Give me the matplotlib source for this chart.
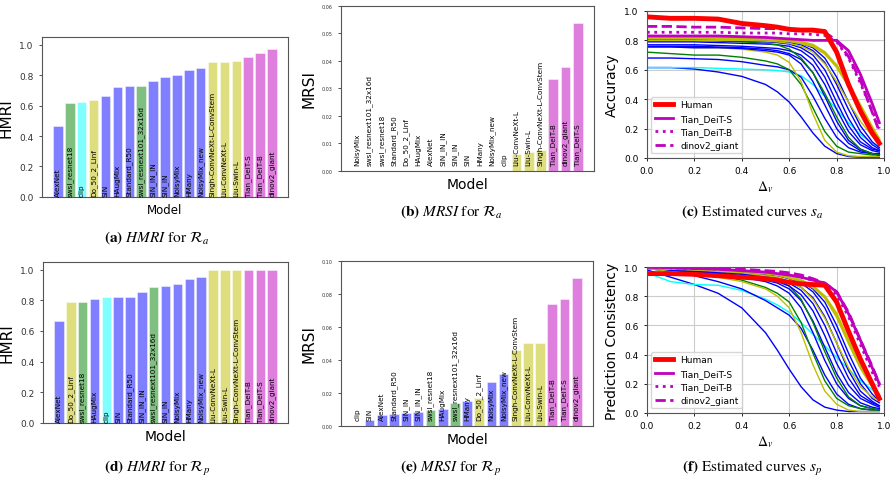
import matplotlib
matplotlib.use("Agg")
import matplotlib.pyplot as plt

plt.rcParams['mathtext.fontset'] = 'stix'

# ---- bar panel data (display order as in the figure) ----
names_a = ['AlexNet', 'swsl_resnet18', 'clip', 'Do_50_2_Linf', 'SIN', 'HAugMix', 'Standard_R50',
           'swsl_resnext101_32x16d', 'SIN_IN_IN', 'SIN_IN', 'NoisyMix', 'HMany', 'NoisyMix_new',
           'Singh-ConvNeXt-L-ConvStem', 'Liu-ConvNeXt-L', 'Liu-Swin-L', 'Tian_DeiT-S', 'Tian_DeiT-B',
           'dinov2_giant']
hmri_a = [0.467, 0.616, 0.622, 0.638, 0.662, 0.72, 0.727, 0.727, 0.76, 0.79, 0.803, 0.834, 0.843,
          0.884, 0.884, 0.893, 0.919, 0.943, 0.972]

names_b = ['NoisyMix', 'swsl_resnext101_32x16d', 'swsl_resnet18', 'Standard_R50', 'Do_50_2_Linf',
           'HAugMix', 'AlexNet', 'SIN_IN_IN', 'SIN_IN', 'SIN', 'HMany', 'NoisyMix_new', 'clip',
           'Liu-ConvNeXt-L', 'Liu-Swin-L', 'Singh-ConvNeXt-L-ConvStem', 'Tian_DeiT-B', 'dinov2_giant',
           'Tian_DeiT-S']
mrsi_a = [0, 0, 0, 0, 0, 0, 0, 0, 0, 0, 0, 0, 0, 0.0063, 0.0069, 0.0075, 0.0335, 0.0379, 0.0537]

names_d = ['AlexNet', 'Do_50_2_Linf', 'swsl_resnet18', 'HAugMix', 'clip', 'SIN', 'Standard_R50',
           'SIN_IN_IN', 'swsl_resnext101_32x16d', 'SIN_IN', 'NoisyMix', 'HMany', 'NoisyMix_new',
           'Liu-ConvNeXt-L', 'Liu-Swin-L', 'Singh-ConvNeXt-L-ConvStem', 'Tian_DeiT-B', 'Tian_DeiT-S',
           'dinov2_giant']
hmri_p = [0.667, 0.787, 0.787, 0.811, 0.82, 0.824, 0.824, 0.852, 0.885, 0.893, 0.907, 0.939, 0.952,
          1.0, 1.0, 1.0, 1.0, 1.0, 1.0]

names_e = ['clip', 'SIN', 'AlexNet', 'Standard_R50', 'SIN_IN', 'SIN_IN_IN', 'swsl_resnet18', 'HAugMix',
           'swsl_resnext101_32x16d', 'HMany', 'Do_50_2_Linf', 'NoisyMix', 'NoisyMix_new',
           'Singh-ConvNeXt-L-ConvStem', 'Liu-ConvNeXt-L', 'Liu-Swin-L', 'Tian_DeiT-B', 'Tian_DeiT-S',
           'dinov2_giant']
mrsi_p = [0, 0.0038, 0.0065, 0.0071, 0.0077, 0.0085, 0.0097, 0.0103, 0.0137, 0.015, 0.0168, 0.0265,
          0.0315, 0.0463, 0.0503, 0.0505, 0.0741, 0.077, 0.0897]

model_color = {'AlexNet': 'blue', 'SIN': 'blue', 'HAugMix': 'blue', 'Standard_R50': 'blue',
               'SIN_IN_IN': 'blue', 'SIN_IN': 'blue', 'NoisyMix': 'blue', 'HMany': 'blue',
               'NoisyMix_new': 'blue', 'swsl_resnet18': 'green', 'swsl_resnext101_32x16d': 'green',
               'clip': 'cyan', 'Do_50_2_Linf': 'y', 'Singh-ConvNeXt-L-ConvStem': 'y',
               'Liu-ConvNeXt-L': 'y', 'Liu-Swin-L': 'y', 'Tian_DeiT-S': 'm', 'Tian_DeiT-B': 'm',
               'dinov2_giant': 'm'}

# ---- estimated curves, sampled at delta_v ----
dv = [0, 0.1, 0.2, 0.3, 0.4, 0.5, 0.55, 0.6, 0.65, 0.7, 0.75, 0.8, 0.85, 0.9, 0.95, 0.98]

acc_human = [0.96, 0.95, 0.95, 0.945, 0.915, 0.90, 0.89, 0.875, 0.87, 0.87, 0.86, 0.72, 0.50, 0.32, 0.17, 0.10]
acc_models = {
    'AlexNet': [0.615, 0.615, 0.605, 0.585, 0.555, 0.50, 0.45, 0.38, 0.28, 0.17, 0.08, 0.03, 0.01, 0.005, 0.005, 0.005],
    'clip': [0.615, 0.615, 0.615, 0.61, 0.605, 0.60, 0.595, 0.585, 0.56, 0.50, 0.42, 0.33, 0.24, 0.16, 0.10, 0.08],
    'SIN': [0.68, 0.68, 0.675, 0.67, 0.655, 0.63, 0.62, 0.60, 0.55, 0.42, 0.27, 0.14, 0.07, 0.04, 0.03, 0.03],
    'swsl_resnet18': [0.72, 0.71, 0.70, 0.70, 0.685, 0.66, 0.64, 0.60, 0.50, 0.34, 0.18, 0.08, 0.04, 0.03, 0.02, 0.02],
    'Do_50_2_Linf': [0.755, 0.755, 0.75, 0.75, 0.74, 0.72, 0.70, 0.65, 0.52, 0.30, 0.12, 0.04, 0.015, 0.01, 0.01, 0.01],
    'HAugMix': [0.755, 0.755, 0.75, 0.75, 0.745, 0.73, 0.72, 0.70, 0.64, 0.52, 0.36, 0.20, 0.10, 0.05, 0.03, 0.02],
    'Standard_R50': [0.76, 0.76, 0.76, 0.755, 0.75, 0.74, 0.73, 0.71, 0.67, 0.58, 0.42, 0.25, 0.12, 0.06, 0.03, 0.02],
    'SIN_IN_IN': [0.77, 0.77, 0.77, 0.765, 0.76, 0.75, 0.745, 0.73, 0.70, 0.63, 0.50, 0.33, 0.18, 0.09, 0.05, 0.04],
    'SIN_IN': [0.79, 0.79, 0.79, 0.785, 0.78, 0.775, 0.77, 0.76, 0.73, 0.67, 0.55, 0.38, 0.22, 0.11, 0.06, 0.05],
    'swsl_resnext101_32x16d': [0.80, 0.80, 0.80, 0.795, 0.79, 0.78, 0.77, 0.74, 0.68, 0.58, 0.44, 0.28, 0.14, 0.06, 0.03, 0.02],
    'NoisyMix': [0.80, 0.80, 0.80, 0.80, 0.795, 0.79, 0.785, 0.775, 0.75, 0.70, 0.60, 0.44, 0.27, 0.14, 0.07, 0.05],
    'HMany': [0.81, 0.81, 0.81, 0.81, 0.805, 0.80, 0.795, 0.785, 0.77, 0.73, 0.65, 0.50, 0.33, 0.18, 0.09, 0.06],
    'NoisyMix_new': [0.815, 0.815, 0.815, 0.81, 0.81, 0.805, 0.80, 0.795, 0.78, 0.75, 0.68, 0.55, 0.38, 0.22, 0.11, 0.07],
    'Singh-ConvNeXt-L-ConvStem': [0.80, 0.80, 0.80, 0.80, 0.80, 0.795, 0.79, 0.78, 0.76, 0.72, 0.64, 0.52, 0.38, 0.25, 0.15, 0.11],
    'Liu-Swin-L': [0.815, 0.815, 0.815, 0.81, 0.81, 0.805, 0.80, 0.795, 0.78, 0.76, 0.71, 0.62, 0.49, 0.35, 0.20, 0.12],
    'Liu-ConvNeXt-L': [0.82, 0.82, 0.82, 0.82, 0.815, 0.81, 0.805, 0.80, 0.79, 0.77, 0.72, 0.63, 0.50, 0.36, 0.21, 0.13],
    'Tian_DeiT-S': [0.83, 0.83, 0.83, 0.83, 0.825, 0.82, 0.815, 0.81, 0.805, 0.80, 0.80, 0.80, 0.73, 0.57, 0.37, 0.24],
    'Tian_DeiT-B': [0.855, 0.855, 0.855, 0.855, 0.85, 0.85, 0.85, 0.845, 0.845, 0.84, 0.835, 0.79, 0.68, 0.51, 0.32, 0.20],
    'dinov2_giant': [0.895, 0.895, 0.89, 0.89, 0.885, 0.88, 0.88, 0.875, 0.87, 0.865, 0.855, 0.80, 0.69, 0.53, 0.31, 0.18],
}

cons_human = [0.955, 0.955, 0.95, 0.94, 0.93, 0.92, 0.91, 0.895, 0.885, 0.88, 0.875, 0.76, 0.56, 0.37, 0.20, 0.10]
cons_models = {
    'AlexNet': [0.98, 0.93, 0.88, 0.82, 0.72, 0.55, 0.43, 0.30, 0.18, 0.09, 0.04, 0.02, 0.01, 0.01, 0.01, 0.01],
    'clip': [0.96, 0.90, 0.88, 0.875, 0.84, 0.78, 0.74, 0.69, 0.62, 0.54, 0.46, 0.38, 0.30, 0.22, 0.16, 0.13],
    'SIN': [0.99, 0.97, 0.94, 0.90, 0.85, 0.77, 0.72, 0.67, 0.58, 0.43, 0.26, 0.13, 0.06, 0.03, 0.02, 0.02],
    'swsl_resnet18': [0.99, 0.975, 0.96, 0.94, 0.91, 0.86, 0.82, 0.76, 0.62, 0.41, 0.22, 0.10, 0.05, 0.03, 0.02, 0.02],
    'Do_50_2_Linf': [0.99, 0.97, 0.95, 0.93, 0.90, 0.85, 0.80, 0.72, 0.55, 0.33, 0.15, 0.06, 0.02, 0.01, 0.01, 0.01],
    'HAugMix': [0.995, 0.98, 0.965, 0.95, 0.93, 0.90, 0.87, 0.82, 0.72, 0.55, 0.36, 0.20, 0.10, 0.05, 0.03, 0.02],
    'Standard_R50': [0.995, 0.98, 0.97, 0.955, 0.935, 0.91, 0.89, 0.85, 0.77, 0.63, 0.45, 0.27, 0.14, 0.07, 0.04, 0.03],
    'swsl_resnext101_32x16d': [1.0, 0.99, 0.98, 0.97, 0.955, 0.93, 0.91, 0.87, 0.78, 0.62, 0.42, 0.24, 0.11, 0.05, 0.03, 0.02],
    'SIN_IN_IN': [0.995, 0.985, 0.975, 0.96, 0.94, 0.92, 0.90, 0.87, 0.81, 0.70, 0.53, 0.34, 0.19, 0.10, 0.06, 0.04],
    'SIN_IN': [0.995, 0.985, 0.975, 0.965, 0.95, 0.93, 0.915, 0.89, 0.84, 0.75, 0.60, 0.41, 0.24, 0.12, 0.07, 0.05],
    'NoisyMix': [1.0, 0.99, 0.98, 0.97, 0.955, 0.94, 0.925, 0.90, 0.86, 0.79, 0.66, 0.48, 0.29, 0.15, 0.08, 0.05],
    'HMany': [1.0, 0.99, 0.985, 0.975, 0.965, 0.95, 0.94, 0.92, 0.89, 0.83, 0.72, 0.55, 0.36, 0.20, 0.10, 0.07],
    'NoisyMix_new': [1.0, 0.99, 0.985, 0.98, 0.97, 0.955, 0.945, 0.93, 0.90, 0.85, 0.76, 0.60, 0.41, 0.24, 0.13, 0.08],
    'Singh-ConvNeXt-L-ConvStem': [0.99, 0.985, 0.98, 0.97, 0.96, 0.94, 0.93, 0.90, 0.86, 0.78, 0.65, 0.48, 0.31, 0.18, 0.11, 0.08],
    'Liu-Swin-L': [0.995, 0.99, 0.985, 0.98, 0.97, 0.955, 0.945, 0.925, 0.90, 0.86, 0.79, 0.66, 0.48, 0.31, 0.18, 0.11],
    'Liu-ConvNeXt-L': [0.995, 0.99, 0.985, 0.98, 0.97, 0.96, 0.95, 0.93, 0.91, 0.87, 0.80, 0.68, 0.50, 0.33, 0.19, 0.12],
    'Tian_DeiT-S': [1.0, 0.995, 0.99, 0.985, 0.975, 0.965, 0.955, 0.945, 0.93, 0.91, 0.89, 0.83, 0.68, 0.50, 0.31, 0.20],
    'Tian_DeiT-B': [1.0, 0.995, 0.99, 0.985, 0.98, 0.97, 0.96, 0.95, 0.93, 0.91, 0.88, 0.81, 0.66, 0.47, 0.28, 0.18],
    'dinov2_giant': [1.0, 0.995, 0.99, 0.99, 0.985, 0.975, 0.97, 0.96, 0.945, 0.92, 0.89, 0.83, 0.69, 0.50, 0.32, 0.20],
}

captions = [r'$\mathbf{(a)}$ $\mathit{HMRI}$ for $\mathcal{R}_a$',
            r'$\mathbf{(b)}$ $\mathit{MRSI}$ for $\mathcal{R}_a$',
            r'$\mathbf{(c)}$ Estimated curves $s_a$',
            r'$\mathbf{(d)}$ $\mathit{HMRI}$ for $\mathcal{R}_p$',
            r'$\mathbf{(e)}$ $\mathit{MRSI}$ for $\mathcal{R}_p$',
            r'$\mathbf{(f)}$ Estimated curves $s_p$']


def bar_panel(ax, names, values, ylabel, ymax, tick_fs, label_fs, xlab_fs, text_off):
    ax.bar(range(len(names)), values, width=0.8, color=[model_color[n] for n in names],
           alpha=0.5, edgecolor='white', linewidth=0.6)
    for i, n in enumerate(names):
        ax.annotate(n, (i, 0), xytext=(0, text_off), textcoords='offset points',
                    rotation=90, ha='center', va='bottom', fontsize=5.2)
    ax.set_ylim(0, ymax)
    ax.set_xticks([])
    ax.set_xlabel('Model', fontsize=xlab_fs, labelpad=4)
    ax.set_ylabel(ylabel, fontsize=label_fs)
    ax.tick_params(axis='y', labelsize=tick_fs, length=2.5, width=0.6, colors='#333333')
    for s in ax.spines.values():
        s.set_color('#555555')
        s.set_linewidth(0.8)


def curve_panel(ax, human, models, ylabel):
    for n, vals in models.items():
        c = model_color[n]
        if n == 'Tian_DeiT-S':
            ax.plot(dv, vals, color='m', lw=2, label=n)
        elif n == 'Tian_DeiT-B':
            ax.plot(dv, vals, color='m', lw=2, ls=':', label=n)
        elif n == 'dinov2_giant':
            ax.plot(dv, vals, color='m', lw=2, ls='--', label=n)
        elif n.startswith('Liu'):
            ax.plot(dv, vals, color=c, lw=1.6)
        else:
            ax.plot(dv, vals, color=c, lw=1)
    ax.plot(dv, human, color='red', lw=3.5, label='Human')
    h, l = ax.get_legend_handles_labels()
    order = [l.index(k) for k in ['Human', 'Tian_DeiT-S', 'Tian_DeiT-B', 'dinov2_giant']]
    ax.legend([h[i] for i in order], [l[i] for i in order], loc='lower left', fontsize=6.5,
              framealpha=0.8)
    ax.set_xlim(0, 1.0)
    ax.set_ylim(0, 1.0)
    ax.grid(True, color='#cccccc', lw=0.8)
    ax.set_xlabel(r'$\Delta_v$', fontsize=10, labelpad=2)
    ax.set_ylabel(ylabel, fontsize=10)
    ax.tick_params(labelsize=6.5, length=2.5, width=0.6)
    for s in ax.spines.values():
        s.set_color('#555555')


fig = plt.figure(figsize=(8.93, 4.85), dpi=100)

ax_a = fig.add_axes([0.047, 0.5918, 0.2755, 0.330])
ax_b = fig.add_axes([0.3819, 0.6454, 0.2833, 0.3402])
ax_c = fig.add_axes([0.7245, 0.6722, 0.2655, 0.3031])
ax_d = fig.add_axes([0.0482, 0.1258, 0.2744, 0.332])
ax_e = fig.add_axes([0.3819, 0.1196, 0.2822, 0.3402])
ax_f = fig.add_axes([0.7245, 0.1464, 0.2655, 0.301])

bar_panel(ax_a, names_a, hmri_a, 'HMRI', 1.05, 6.5, 11, 8.5, 1)
ax_a.set_yticks([0, 0.2, 0.4, 0.6, 0.8, 1.0])
bar_panel(ax_b, names_b, mrsi_a, 'MRSI', 0.06, 3.5, 11, 10, 4)
bar_panel(ax_d, names_d, hmri_p, 'HMRI', 1.05, 6.5, 11, 10, 1)
ax_d.set_yticks([0, 0.2, 0.4, 0.6, 0.8, 1.0])
bar_panel(ax_e, names_e, mrsi_p, 'MRSI', 0.10, 3.5, 11, 10, 4)

curve_panel(ax_c, acc_human, acc_models, 'Accuracy')
curve_panel(ax_f, cons_human, cons_models, 'Prediction Consistency')

cap_pos = [(0.176, 0.511), (0.505, 0.563), (0.842, 0.563),
           (0.176, 0.035), (0.505, 0.035), (0.842, 0.035)]
for (x, y), cap in zip(cap_pos, captions):
    fig.text(x, y, cap, ha='center', va='center', fontsize=11, family='STIXGeneral')

fig.savefig('out.png', dpi=100)
